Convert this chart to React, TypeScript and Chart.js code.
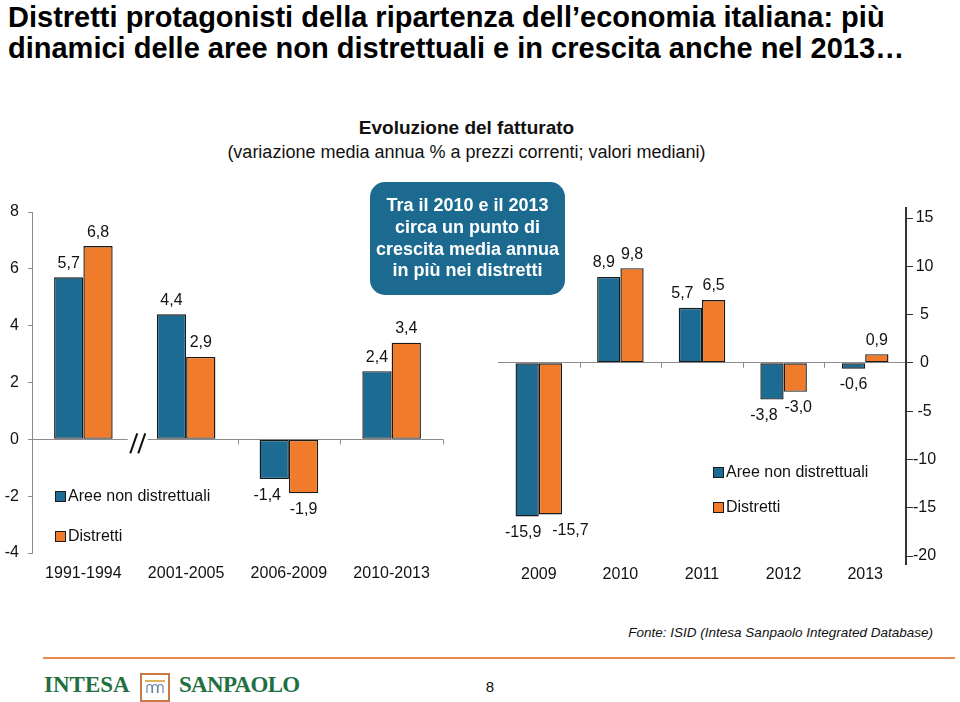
import React, { useEffect, useRef } from 'react';
import { Chart, registerables } from 'chart.js';

Chart.register(...registerables);

const FONT = '"Liberation Sans", Arial, Helvetica, sans-serif';

// ---- data ----
const periodLabels = ['1991-1994', '2001-2005', '2006-2009', '2010-2013'];
const periodNonDistrettuali = [5.7, 4.4, -1.4, 2.4];
const periodDistretti = [6.8, 2.9, -1.9, 3.4];
const periodTicks = [-4, -2, 0, 2, 4, 6, 8];

const yearLabels = ['2009', '2010', '2011', '2012', '2013'];
const yearNonDistrettuali = [-15.9, 8.9, 5.7, -3.8, -0.6];
const yearDistretti = [-15.7, 9.8, 6.5, -3.0, 0.9];
const yearTicks = [-20, -15, -10, -5, 0, 5, 10, 15];

const seriesNames = ['Aree non distrettuali', 'Distretti'];
const seriesColors = ['#1B6B93', '#F07B2B'];

const fmt = (v: number) => v.toFixed(1).replace('.', ',');

type PanelSpec = {
  labels: string[];
  a: number[];
  b: number[];
  ticks: number[];
  side: 'left' | 'right';
  pad: { top: number; right: number; left: number };
  axisWidth: number;
  xHeight: number;
  labelPad: number;
  yTickLen: number;
  yTickPad: number;
  axisColor: string;
  axisLineWidth: number;
  nudges: number[][];
  boundaryTicks: number[];
  breakAfter: number | null;
  axisExtend: [number, number];
};

function makeChart(canvas: HTMLCanvasElement, s: PanelSpec) {
  const valueLabels = {
    id: 'valueLabels',
    afterDatasetsDraw(chart: any) {
      const ctx = chart.ctx;
      ctx.save();
      ctx.font = `16px ${FONT}`;
      ctx.fillStyle = '#111';
      ctx.textAlign = 'center';
      ctx.textBaseline = 'middle';
      chart.data.datasets.forEach((ds: any, di: number) => {
        const meta = chart.getDatasetMeta(di);
        meta.data.forEach((el: any, i: number) => {
          const v = ds.data[i] as number;
          const n = (s.nudges[di] && s.nudges[di][i]) || 0;
          const y = v >= 0 ? el.y - 14 : el.y + 16;
          ctx.fillText(fmt(v), el.x + n, y);
        });
      });
      ctx.restore();
    },
  };

  const axisMarks = {
    id: 'axisMarks',
    afterDatasetsDraw(chart: any) {
      const ctx = chart.ctx;
      const xs = chart.scales.x;
      const ys = chart.scales.y;
      const y0 = ys.getPixelForValue(0);
      ctx.save();
      ctx.strokeStyle = '#8c8c8c';
      ctx.lineWidth = 1;
      s.boundaryTicks.forEach((b) => {
        const xa = xs.getPixelForValue(Math.floor(b));
        const xb = xs.getPixelForValue(Math.ceil(b));
        let x = (xa + xb) / 2;
        if (b >= s.labels.length - 0.5) x = chart.chartArea.right;
        if (b <= -0.5) x = chart.chartArea.left;
        ctx.beginPath();
        ctx.moveTo(Math.round(x) + 0.5, y0);
        ctx.lineTo(Math.round(x) + 0.5, y0 + 5);
        ctx.stroke();
      });
      if (s.breakAfter !== null) {
        const x =
          (xs.getPixelForValue(s.breakAfter) + xs.getPixelForValue(s.breakAfter + 1)) / 2 + 3;
        ctx.fillStyle = '#ffffff';
        ctx.fillRect(x - 10, y0 - 2, 20, 4);
        ctx.strokeStyle = '#111';
        ctx.lineWidth = 2;
        ctx.beginPath();
        ctx.moveTo(x - 7.5, y0 + 14);
        ctx.lineTo(x - 0.5, y0 - 6);
        ctx.moveTo(x + 0.5, y0 + 14);
        ctx.lineTo(x + 7.5, y0 - 6);
        ctx.stroke();
      }
      if (s.axisExtend[0] > 0 || s.axisExtend[1] > 0) {
        const ax = s.side === 'right' ? ys.left : ys.right;
        ctx.strokeStyle = s.axisColor;
        ctx.lineWidth = s.axisLineWidth;
        ctx.beginPath();
        ctx.moveTo(ax, chart.chartArea.top - s.axisExtend[0]);
        ctx.lineTo(ax, chart.chartArea.top);
        ctx.moveTo(ax, chart.chartArea.bottom);
        ctx.lineTo(ax, chart.chartArea.bottom + s.axisExtend[1]);
        ctx.stroke();
      }
      ctx.restore();
    },
  };

  const min = s.ticks[0];
  const max = s.ticks[s.ticks.length - 1];
  const step = s.ticks[1] - s.ticks[0];

  return new Chart(canvas, {
    type: 'bar',
    data: {
      labels: s.labels,
      datasets: [s.a, s.b].map((d, i) => ({
        label: seriesNames[i],
        data: d,
        backgroundColor: seriesColors[i],
        borderColor: '#1a1a1a',
        borderWidth: 1.4,
        borderSkipped: false,
        categoryPercentage: 0.57,
        barPercentage: 1,
      })),
    },
    options: {
      animation: false,
      responsive: false,
      maintainAspectRatio: false,
      devicePixelRatio: 1,
      layout: { padding: { top: s.pad.top, right: s.pad.right, left: s.pad.left, bottom: 0 } },
      plugins: {
        legend: { display: false },
        tooltip: { enabled: false },
        title: { display: false },
      },
      scales: {
        x: {
          grid: { display: false, drawTicks: false },
          border: { display: false },
          ticks: {
            color: '#111',
            font: { size: 16, family: FONT },
            padding: s.labelPad,
            maxRotation: 0,
            autoSkip: false,
          },
          afterFit: (sc: any) => {
            sc.height = s.xHeight;
          },
        },
        y: {
          position: s.side,
          min,
          max,
          ticks: {
            stepSize: step,
            color: '#111',
            font: { size: 16, family: FONT },
            padding: s.yTickPad,
            crossAlign: s.side === 'right' ? 'center' : 'near',
          },
          grid: {
            color: (c: any) => (c.tick && c.tick.value === 0 ? '#8c8c8c' : 'rgba(0,0,0,0)'),
            tickColor: s.axisColor,
            tickLength: s.yTickLen,
            drawTicks: true,
            lineWidth: 1,
          },
          border: { display: true, color: s.axisColor, width: s.axisLineWidth },
          afterFit: (sc: any) => {
            sc.width = s.axisWidth;
          },
        },
      },
    } as any,
    plugins: [valueLabels, axisMarks],
  });
}

const leftSpec: PanelSpec = {
  labels: periodLabels,
  a: periodNonDistrettuali,
  b: periodDistretti,
  ticks: periodTicks,
  side: 'left',
  pad: { top: 32, right: 37, left: 0 },
  axisWidth: 32,
  xHeight: 47,
  labelPad: 11,
  yTickLen: 4,
  yTickPad: 9,
  axisColor: '#8c8c8c',
  axisLineWidth: 1,
  nudges: [
    [0, 0, -7, 0],
    [0, 0, 0, 0],
  ],
  boundaryTicks: [1.5, 2.5, 3.5],
  breakAfter: 0,
  axisExtend: [0, 0],
};

const rightSpec: PanelSpec = {
  labels: yearLabels,
  a: yearNonDistrettuali,
  b: yearDistretti,
  ticks: yearTicks,
  side: 'right',
  pad: { top: 38, right: 0, left: 18 },
  axisWidth: 54,
  xHeight: 44,
  labelPad: 9,
  yTickLen: 7,
  yTickPad: 0,
  axisColor: '#333333',
  axisLineWidth: 2,
  nudges: [
    [-4, -5, -8, -8, 0],
    [20, 0, 0, 3, 0],
  ],
  boundaryTicks: [0.5, 1.5, 2.5, 3.5],
  breakAfter: null,
  axisExtend: [11, 9],
};

function Panel({ spec, left, top }: { spec: PanelSpec; left: number; top: number }) {
  const ref = useRef<HTMLCanvasElement | null>(null);
  useEffect(() => {
    if (!ref.current) return;
    const c = makeChart(ref.current, spec);
    return () => c.destroy();
  }, [spec]);
  return (
    <canvas
      ref={ref}
      width={480}
      height={420}
      style={{ position: 'absolute', left, top, width: 480, height: 420, display: 'block' }}
    />
  );
}

function LegendItem({ x, y, color, text }: { x: number; y: number; color: string; text: string }) {
  return (
    <>
      <div
        style={{
          position: 'absolute',
          left: x,
          top: y - 5,
          width: 11,
          height: 11,
          boxSizing: 'border-box',
          border: '1px solid #1a1a1a',
          background: color,
        }}
      />
      <div
        style={{
          position: 'absolute',
          left: x + 13,
          top: y - 10,
          lineHeight: '20px',
          fontSize: 16,
          fontFamily: FONT,
          color: '#111',
          whiteSpace: 'nowrap',
        }}
      >
        {text}
      </div>
    </>
  );
}

const logoText: React.CSSProperties = {
  position: 'absolute',
  top: 673,
  fontFamily: '"Liberation Serif", "Times New Roman", serif',
  fontWeight: 'bold',
  fontSize: 23,
  lineHeight: '23px',
  color: '#22703F',
  whiteSpace: 'nowrap',
};

export default function App() {
  return (
    <div
      style={{
        position: 'absolute',
        left: 0,
        top: 0,
        width: 960,
        height: 702,
        background: '#ffffff',
        overflow: 'hidden',
        fontFamily: FONT,
      }}
    >
      <div
        style={{
          position: 'absolute',
          left: 8,
          top: 2,
          fontSize: 29,
          fontWeight: 'bold',
          lineHeight: '31px',
          color: '#000',
          whiteSpace: 'nowrap',
        }}
      >
        Distretti protagonisti della ripartenza dell’economia italiana: più
        <br />
        dinamici delle aree non distrettuali e in crescita anche nel 2013…
      </div>

      <div
        style={{
          position: 'absolute',
          left: 0,
          width: 933,
          top: 117,
          textAlign: 'center',
          fontSize: 19,
          fontWeight: 'bold',
          lineHeight: '22px',
          color: '#111',
        }}
      >
        Evoluzione del fatturato
      </div>
      <div
        style={{
          position: 'absolute',
          left: 0,
          width: 933,
          top: 141,
          textAlign: 'center',
          fontSize: 18,
          lineHeight: '22px',
          color: '#111',
        }}
      >
        (variazione media annua % a prezzi correnti; valori mediani)
      </div>

      <Panel spec={leftSpec} left={0} top={180} />
      <Panel spec={rightSpec} left={480} top={180} />

      <div
        style={{
          position: 'absolute',
          left: 370,
          top: 182,
          width: 195,
          height: 113,
          borderRadius: 15,
          background: '#1C6A8F',
          color: '#fff',
          fontWeight: 'bold',
          fontSize: 18,
          lineHeight: '21.7px',
          display: 'flex',
          alignItems: 'center',
          justifyContent: 'center',
          textAlign: 'center',
        }}
      >
        <div>
          Tra il 2010 e il 2013
          <br />
          circa un punto di
          <br />
          crescita media annua
          <br />
          in più nei distretti
        </div>
      </div>

      <LegendItem x={55} y={496} color={seriesColors[0]} text={seriesNames[0]} />
      <LegendItem x={55} y={536} color={seriesColors[1]} text={seriesNames[1]} />
      <LegendItem x={713} y={472} color={seriesColors[0]} text={seriesNames[0]} />
      <LegendItem x={713} y={507} color={seriesColors[1]} text={seriesNames[1]} />

      <div
        style={{
          position: 'absolute',
          left: 0,
          width: 933,
          top: 625,
          textAlign: 'right',
          fontSize: 13.5,
          fontStyle: 'italic',
          lineHeight: '16px',
          color: '#111',
        }}
      >
        Fonte: ISID (Intesa Sanpaolo Integrated Database)
      </div>

      <div
        style={{
          position: 'absolute',
          left: 43,
          top: 657,
          width: 912,
          height: 2,
          background: '#E58B4F',
        }}
      />

      <div style={{ ...logoText, left: 44, letterSpacing: 0 }}>INTESA</div>
      <div
        style={{
          position: 'absolute',
          left: 140,
          top: 673,
          width: 30,
          height: 29,
          boxSizing: 'border-box',
          border: '2px solid #C97A45',
          background: '#fff',
        }}
      >
        <svg width={26} height={25} viewBox="0 0 26 25" style={{ display: 'block' }}>
          <rect x={3} y={5} width={20} height={2} fill="#D9B45A" />
          <path
            d="M5 18 V12 a2.5 2.5 0 0 1 5 0 V18 M10.5 18 V12 a2.5 2.5 0 0 1 5 0 V18 M16 18 V12 a2.5 2.5 0 0 1 5 0 V18"
            fill="none"
            stroke="#6A84A8"
            strokeWidth={1.2}
          />
        </svg>
      </div>
      <div style={{ ...logoText, left: 179, letterSpacing: -0.7 }}>SANPAOLO</div>

      <div
        style={{
          position: 'absolute',
          left: 480,
          width: 20,
          top: 678,
          textAlign: 'center',
          fontSize: 15,
          lineHeight: '18px',
          color: '#111',
        }}
      >
        8
      </div>
    </div>
  );
}
